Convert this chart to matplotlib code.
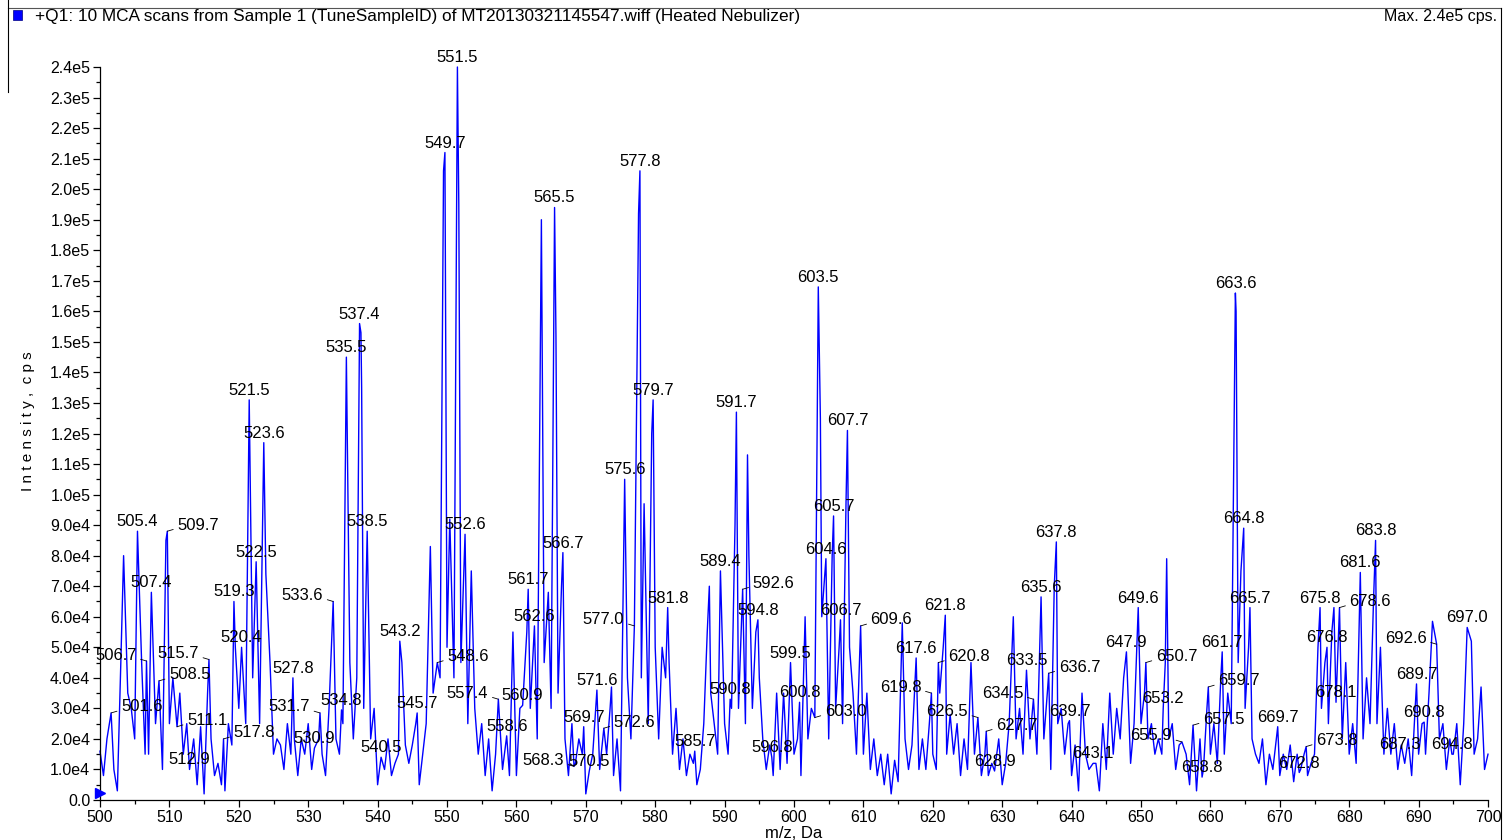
import numpy as np
import matplotlib
matplotlib.use("Agg")
import matplotlib.pyplot as plt
from matplotlib.lines import Line2D
from matplotlib.patches import Rectangle

plt.rcParams['font.family'] = ['Liberation Sans', 'DejaVu Sans']

# background trace, intensity in 1e4 cps, every 0.5 m/z from 500.0 to 700.0
base_start = 500.0
base_step = 0.5
base_int = [
    1.6, 0.8, 2.0, 2.4, 1.0, 0.3, 4.5, 6.5, 3.5, 3.0, 2.0, 5.5, 4.5, 1.5, 1.5, 5.0, 2.5, 3.0, 1.0, 8.5,
    2.5, 4.0, 2.0, 3.5, 1.5, 2.5, 1.0, 2.0, 0.5, 2.4, 0.2, 3.5, 2.0, 0.8, 1.2, 0.5, 0.3, 2.5, 1.8, 5.0,
    3.0, 3.5, 2.5, 6.0, 4.0, 5.0, 2.5, 10.0, 4.0, 4.5, 1.5, 2.0, 1.8, 1.0, 2.5, 1.5, 2.0, 0.8, 2.0, 1.5,
    2.5, 1.0, 0.3, 2.0, 1.5, 0.8, 3.0, 5.0, 2.0, 1.5, 2.5, 6.0, 4.5, 2.0, 4.0, 12.0, 3.0, 6.0, 2.0, 3.0,
    0.5, 1.5, 1.0, 2.0, 0.8, 1.2, 1.5, 4.5, 1.8, 1.2, 1.8, 2.5, 0.5, 1.5, 2.5, 7.0, 3.5, 1.5, 4.0, 8.0,
    5.0, 9.0, 4.0, 10.0, 4.5, 7.0, 2.5, 7.5, 3.0, 1.5, 2.5, 0.8, 2.0, 0.3, 1.5, 2.8, 1.0, 2.5, 0.8, 5.5,
    0.8, 3.0, 1.5, 5.5, 3.0, 4.5, 2.0, 8.0, 4.5, 6.5, 3.0, 8.0, 3.5, 7.0, 2.0, 0.8, 2.5, 1.2, 2.0, 1.5,
    0.2, 1.0, 1.5, 3.5, 1.0, 2.0, 1.5, 3.0, 0.8, 2.0, 0.3, 9.0, 4.0, 2.0, 5.5, 10.0, 4.0, 9.0, 2.5, 12.0,
    5.0, 2.0, 5.0, 4.0, 4.5, 1.5, 3.0, 1.0, 2.0, 0.8, 1.5, 1.2, 0.5, 1.0, 2.5, 5.5, 3.5, 2.5, 1.5, 7.0,
    2.5, 1.5, 3.0, 9.0, 3.0, 5.0, 2.5, 8.0, 3.0, 5.5, 4.0, 2.0, 1.0, 1.8, 0.8, 3.5, 1.0, 3.5, 1.2, 4.0,
    1.5, 2.0, 0.8, 4.5, 2.0, 3.0, 2.5, 10.0, 6.0, 7.0, 2.0, 8.0, 3.0, 5.0, 2.5, 9.8, 5.0, 3.5, 1.5, 5.0,
    1.5, 3.5, 1.0, 2.0, 0.8, 1.5, 0.5, 1.5, 0.2, 1.3, 0.6, 5.5, 2.0, 1.0, 1.8, 4.0, 1.0, 2.0, 1.0, 2.5,
    1.5, 1.0, 3.5, 5.0, 1.5, 2.8, 1.5, 2.5, 0.8, 2.0, 1.0, 3.5, 1.5, 2.5, 0.8, 1.5, 0.8, 1.2, 0.8, 2.0,
    0.5, 1.2, 2.5, 5.5, 2.0, 3.0, 1.5, 3.8, 2.0, 2.5, 1.5, 5.5, 2.0, 3.5, 1.0, 7.0, 2.5, 3.0, 1.5, 2.5,
    0.8, 1.8, 0.3, 3.5, 1.5, 1.0, 2.0, 1.2, 0.3, 2.5, 1.0, 3.5, 1.5, 3.0, 2.0, 4.0, 2.0, 1.2, 2.5, 5.5,
    2.5, 3.5, 2.0, 2.5, 1.5, 2.0, 1.5, 4.5, 2.0, 2.5, 1.0, 1.8, 0.8, 1.5, 0.5, 2.2, 0.3, 2.0, 1.0, 3.0,
    1.5, 2.5, 1.2, 4.0, 1.5, 3.5, 2.5, 8.0, 4.5, 7.5, 3.0, 5.0, 2.0, 1.5, 1.2, 2.0, 0.5, 1.5, 1.0, 2.0,
    0.8, 1.5, 1.0, 1.8, 0.6, 1.5, 1.0, 1.5, 0.8, 1.2, 1.5, 5.0, 3.0, 4.5, 2.5, 5.5, 2.5, 5.5, 2.0, 4.5,
    1.5, 2.5, 1.2, 6.0, 2.0, 4.0, 2.5, 6.5, 2.5, 5.0, 1.5, 3.0, 1.5, 2.5, 1.0, 1.8, 1.2, 2.0, 0.8, 3.0,
    1.5, 2.5, 1.5, 3.5, 4.5, 3.0, 2.0, 2.5, 1.0, 2.0, 1.5, 2.5, 0.5, 2.5, 3.0, 4.0, 1.5, 2.0, 3.0, 1.0,
    1.5,
]

# labelled peaks: m/z, intensity (1e4 cps), where the label sits (c = above, l = left, r = right)
peak_mz = [
    501.6, 505.4, 506.7, 507.4, 508.5, 509.7, 511.1, 512.9, 515.7, 517.8,
    519.3, 520.4, 521.5, 522.5, 523.6, 527.8, 530.9, 531.7, 533.6, 534.8,
    535.5, 537.4, 538.5, 540.5, 543.2, 545.7, 548.6, 549.7, 551.5, 552.6,
    557.4, 558.6, 560.9, 561.7, 562.6, 565.5, 566.7, 568.3, 569.7, 570.5,
    571.6, 572.6, 575.6, 577.0, 577.8, 579.7, 581.8, 585.7, 589.4, 590.8,
    591.7, 592.6, 594.8, 596.8, 599.5, 600.8, 603.0, 603.5, 604.6, 605.7,
    606.7, 607.7, 609.6, 617.6, 619.8, 620.8, 621.8, 626.5, 627.7, 628.9,
    633.5, 634.5, 635.6, 636.7, 637.8, 639.7, 643.1, 647.9, 649.6, 650.7,
    653.2, 655.9, 657.5, 658.8, 659.7, 661.7, 663.6, 664.8, 665.7, 669.7,
    672.8, 673.8, 675.8, 676.8, 678.1, 678.6, 681.6, 683.8, 687.3, 689.7,
    690.8, 692.6, 694.8, 697.0,
]
peak_int = [
    2.85, 8.8, 4.55, 6.8, 3.9, 8.8, 2.4, 1.0, 4.6, 2.0,
    6.5, 5.0, 13.1, 7.8, 11.7, 4.0, 1.7, 2.85, 6.5, 2.95,
    14.5, 15.6, 8.8, 1.4, 5.2, 2.85, 4.5, 21.2, 24.0, 8.7,
    3.3, 2.1, 3.1, 6.9, 5.7, 19.4, 8.1, 1.1, 2.4, 0.95,
    3.6, 2.35, 10.5, 5.7, 20.6, 13.1, 6.3, 1.6, 7.5, 3.3,
    12.7, 6.9, 5.9, 1.4, 4.5, 3.2, 2.7, 16.8, 7.9, 9.3,
    5.9, 12.1, 5.7, 4.65, 3.5, 4.5, 6.05, 2.7, 2.25, 0.95,
    4.25, 3.3, 6.65, 4.15, 8.45, 2.6, 1.2, 4.85, 6.3, 4.5,
    3.0, 1.9, 2.45, 0.75, 3.7, 4.85, 16.6, 8.9, 6.3, 2.4,
    0.9, 1.75, 6.3, 5.0, 3.2, 6.3, 7.45, 8.5, 1.5, 3.8,
    2.55, 5.1, 1.5, 5.65,
]
peak_side = (
    "rclcrrrclr"
    "cccccccllc"
    "ccccccrccc"
    "lcccccclcc"
    "crclcccccc"
    "crccccrccc"
    "ccrclrclrc"
    "clcrcccccr"
    "clrcrccccc"
    "crcccrcccc"
    "clcc"
)

# unlabelled maxima inside the clusters
extra_mz = [503.4, 523.9, 537.6, 537.7, 547.6, 549.5, 550.4, 551.7, 563.6, 564.6,
            565.7, 573.7, 577.6, 578.4, 587.8, 593.3, 601.6, 603.8, 615.6, 625.5,
            631.6, 653.7, 663.7, 664.4, 677.8, 692.0, 697.6, 699.0]
extra_int = [8.0, 7.4, 15.3, 13.5, 8.3, 20.6, 9.2, 19.5, 19.0, 6.8,
             15.2, 3.7, 19.2, 9.7, 7.0, 11.3, 6.0, 12.5, 5.8, 4.5,
             6.0, 7.9, 16.0, 7.5, 6.3, 5.85, 5.2, 3.7]

# assemble trace
base_mz = base_start + base_step * np.arange(len(base_int))
pk = np.array(peak_mz + extra_mz)
keep = np.array([np.min(np.abs(pk - m)) > 0.12 for m in base_mz])
mz = np.concatenate([base_mz[keep], pk])
inten = np.concatenate([np.array(base_int)[keep], np.array(peak_int + extra_int)]) * 1e4
order = np.argsort(mz, kind="stable")
mz, inten = mz[order], inten[order]

W, H = 1511, 840
fig = plt.figure(figsize=(W / 100, H / 100), dpi=100)
ax = fig.add_axes([100 / W, 40 / H, 1388 / W, 733 / H])

ax.plot(mz, inten, color="#0000ff", lw=1.0, clip_on=False, zorder=2)

ax.set_xlim(500, 700)
ax.set_ylim(0, 2.4e5)
for s in ["top", "right"]:
    ax.spines[s].set_visible(False)
for s in ["left", "bottom"]:
    ax.spines[s].set_linewidth(0.9)

ax.set_xticks(np.arange(500, 701, 10))
ax.set_xticks(np.arange(505, 700, 10), minor=True)
yt = np.arange(0, 2.41e5, 1e4)
ax.set_yticks(yt)
ax.set_yticks(np.arange(5e3, 2.4e5, 1e4), minor=True)


def ylab(v):
    if v == 0:
        return "0.0"
    if v < 1e5:
        return "%.1fe4" % (v / 1e4)
    return "%.1fe5" % (v / 1e5)


ax.set_yticklabels([ylab(v) for v in yt])
ax.tick_params(axis="both", which="major", length=5, width=0.9, labelsize=11.5, pad=2)
ax.tick_params(axis="both", which="minor", length=3, width=0.9)

ax.set_xlabel("m/z, Da", fontsize=12, labelpad=1)
ax.set_ylabel("I n t e n s i t y ,  c p s", fontsize=11)
ax.yaxis.set_label_coords(-0.047, 0.517)

# peak labels
for m, v, side in zip(peak_mz, peak_int, peak_side):
    y = v * 1e4
    if side == "c":
        ax.annotate("%.1f" % m, (m, y), xytext=(0, 2), textcoords="offset pixels",
                    ha="center", va="bottom", fontsize=12, zorder=3)
    else:
        dx = 10 if side == "r" else -10
        ax.annotate("%.1f" % m, (m, y), xytext=(dx, 6), textcoords="offset pixels",
                    ha="left" if side == "r" else "right", va="center", fontsize=12, zorder=3,
                    arrowprops=dict(arrowstyle="-", lw=0.6, color="black",
                                    shrinkA=1, shrinkB=0,
                                    relpos=(0, 0.3) if side == "r" else (1, 0.3)))

# blue marker at the origin of the y axis
ax.plot([500], [0.24e4], marker=">", color="#0000ff", ms=7, clip_on=False, zorder=4)

# header
fig.add_artist(Line2D([8 / W, 1501 / W], [1 - 8 / H, 1 - 8 / H], color="#555555", lw=0.8))
fig.add_artist(Line2D([8 / W, 8 / W], [1 - 92 / H, 1], color="black", lw=0.8))
fig.add_artist(Line2D([1501 / W, 1501 / W], [0, 1 - 8 / H], color="black", lw=0.8))
fig.add_artist(Rectangle((13 / W, 1 - 20 / H), 9 / W, 10 / H, transform=fig.transFigure,
                         facecolor="#0000ff", edgecolor="#000080", lw=0.5))
fig.text(35 / W, 1 - 17 / H,
         "+Q1: 10 MCA scans from Sample 1 (TuneSampleID) of MT20130321145547.wiff (Heated Nebulizer)",
         fontsize=12.4, va="center", ha="left")
fig.text(1497 / W, 1 - 17 / H, "Max. 2.4e5 cps.", fontsize=11.5, va="center", ha="right")

fig.savefig("out.png", dpi=100)
